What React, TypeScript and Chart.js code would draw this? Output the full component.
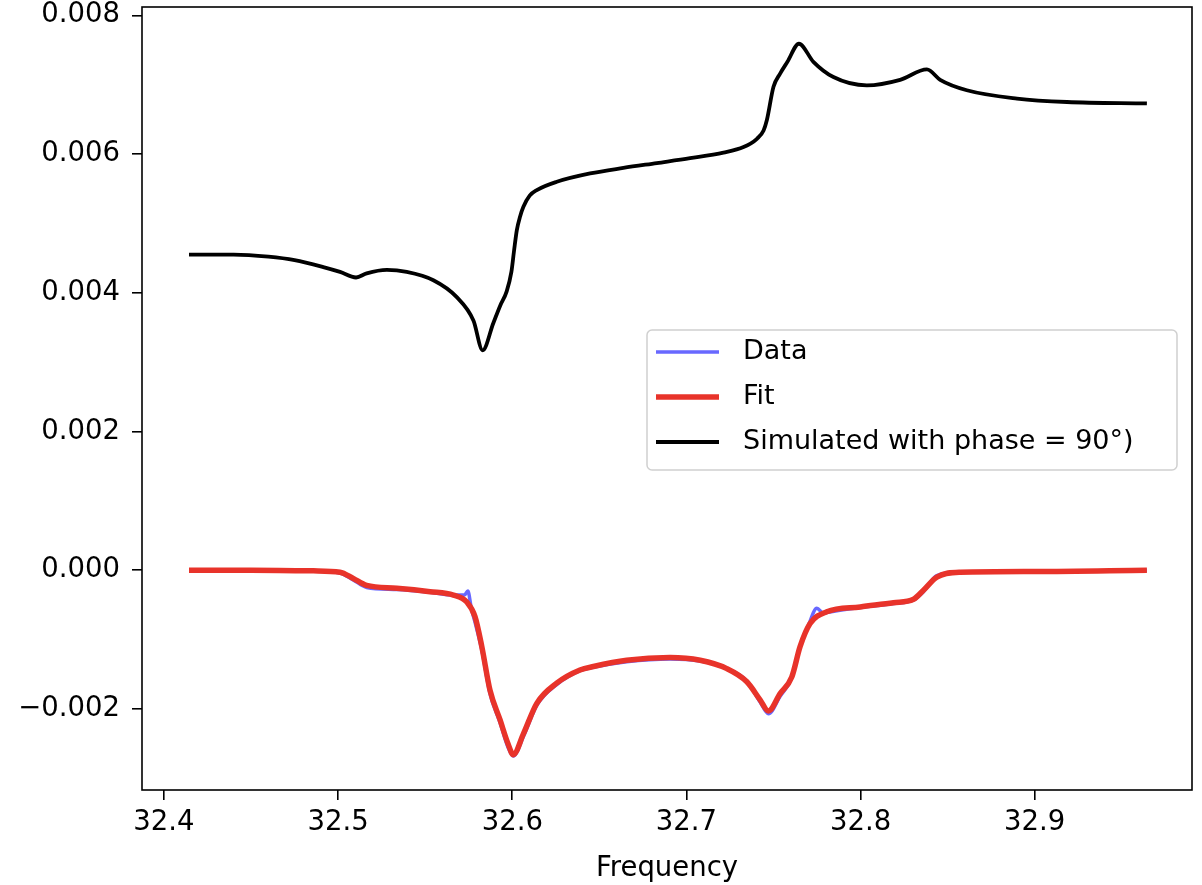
import { useEffect, useRef } from "react";
import { Chart, registerables } from "chart.js";

Chart.register(...registerables);

// Simulated curve (phase = 90°)
const simX = [
  32.4144, 32.44, 32.46, 32.475, 32.4915, 32.5011, 32.5103, 32.5164, 32.528, 32.5394,
  32.5547, 32.568, 32.5777, 32.583, 32.5891, 32.593, 32.5968, 32.5995, 32.601, 32.6026,
  32.6045, 32.6064, 32.61, 32.6141, 32.6256, 32.6447, 32.6638, 32.683, 32.7021, 32.7213,
  32.7328, 32.7405, 32.7443, 32.7462, 32.75, 32.7538, 32.758, 32.7646, 32.7729, 32.7844,
  32.8036, 32.8227, 32.8381, 32.8457, 32.861, 32.8898, 32.9185, 32.9644,
];
const simY = [
  0.00455, 0.00455, 0.00452, 0.00447, 0.00437, 0.0043, 0.00422, 0.00428, 0.00433, 0.0043,
  0.00418, 0.00394, 0.0036, 0.00317, 0.00356, 0.00381, 0.00402, 0.0043, 0.0046, 0.0049,
  0.0051, 0.00524, 0.0054, 0.00548, 0.0056, 0.00572, 0.0058, 0.00587, 0.00594, 0.00602,
  0.0061, 0.00622, 0.00634, 0.00649, 0.00697, 0.00716, 0.00733, 0.00759, 0.00733, 0.00711,
  0.00699, 0.00707, 0.00722, 0.00707, 0.00692, 0.0068, 0.00675, 0.00673,
];

// Fit curve
const fitX = [
  32.4144, 32.45, 32.4858, 32.5011, 32.5087, 32.5164, 32.5337, 32.5528, 32.5662, 32.5739,
  32.5786, 32.5825, 32.5872, 32.593, 32.5975, 32.6006, 32.6064, 32.6141, 32.6255, 32.6389,
  32.6466, 32.6657, 32.6906, 32.7079, 32.7232, 32.7347, 32.7423, 32.7471, 32.7538, 32.7605,
  32.7653, 32.771, 32.7806, 32.7998, 32.8189, 32.8304, 32.8361, 32.8438, 32.8572, 32.9,
  32.9644,
];
const fitY = [
  0.0, 0.0, -0.00001, -0.00003, -0.00012, -0.00022, -0.00026, -0.00031, -0.00036, -0.00046,
  -0.00067, -0.0011, -0.00173, -0.00216, -0.0025, -0.00266, -0.00236, -0.00192, -0.00163, -0.00144,
  -0.00139, -0.0013, -0.00126, -0.0013, -0.00142, -0.00161, -0.00187, -0.00203, -0.00178, -0.00154,
  -0.0011, -0.00077, -0.0006, -0.00053, -0.00047, -0.00042, -0.00029, -0.0001, -0.00003, -0.00002,
  0.0,
];

// Measured data
const dataX = [
  32.4144, 32.45, 32.4858, 32.5011, 32.5087, 32.5164, 32.5337, 32.5528, 32.5662, 32.5725,
  32.5745, 32.5765, 32.5786, 32.5825, 32.5872, 32.593, 32.5975, 32.6006, 32.6064, 32.6141,
  32.6255, 32.6389, 32.6466, 32.6657, 32.6906, 32.7079, 32.7232, 32.7347, 32.7423, 32.7471,
  32.7538, 32.7605, 32.7653, 32.77, 32.7749, 32.7785, 32.7806, 32.7998, 32.8189, 32.8304,
  32.8361, 32.8438, 32.8572, 32.9, 32.9644,
];
const dataY = [
  0.0, 0.0, -0.00001, -0.00004, -0.00014, -0.00025, -0.00028, -0.00032, -0.00036, -0.00036,
  -0.0003, -0.00055, -0.00075, -0.00115, -0.00178, -0.0022, -0.00255, -0.00268, -0.0024, -0.00195,
  -0.00165, -0.00145, -0.0014, -0.00132, -0.00128, -0.00131, -0.00142, -0.0016, -0.0019, -0.00207,
  -0.00182, -0.00155, -0.0011, -0.0008, -0.00055, -0.00062, -0.00061, -0.00054, -0.00048, -0.00043,
  -0.00031, -0.00008, -0.00003, -0.00002, 0.0,
];

const xTicks = [32.4, 32.5, 32.6, 32.7, 32.8, 32.9];
const yTicks = [-0.002, 0.0, 0.002, 0.004, 0.006, 0.008];
const legendLabels = ["Data", "Fit", "Simulated with phase = 90°)"];

const FONT = "'DejaVu Sans', sans-serif";

const toPoints = (xs: number[], ys: number[]) => xs.map((x, i) => ({ x, y: ys[i] }));

// box around the plot + legend in the upper right middle
const framePlugin = {
  id: "frame",
  afterDraw(chart: any) {
    const { ctx, chartArea } = chart;
    ctx.save();
    ctx.strokeStyle = "#000";
    ctx.lineWidth = 1.6;
    ctx.strokeRect(chartArea.left, chartArea.top, chartArea.right - chartArea.left, chartArea.bottom - chartArea.top);

    const boxLeft = chartArea.left + 505;
    const boxRight = chartArea.right - 15;
    const boxTop = chartArea.top + 323;
    const boxBottom = chartArea.top + 463;
    ctx.fillStyle = "rgba(255,255,255,0.8)";
    ctx.strokeStyle = "#d0d0d0";
    ctx.lineWidth = 1.5;
    ctx.beginPath();
    ctx.roundRect(boxLeft, boxTop, boxRight - boxLeft, boxBottom - boxTop, 5);
    ctx.fill();
    ctx.stroke();

    ctx.font = `27px ${FONT}`;
    ctx.textBaseline = "middle";
    ctx.textAlign = "left";
    const order = [0, 1, 2];
    order.forEach((i) => {
      const ds = chart.data.datasets[i];
      const y = boxTop + 22 + i * 45;
      ctx.strokeStyle = ds.borderColor;
      ctx.lineWidth = ds.borderWidth;
      ctx.beginPath();
      ctx.moveTo(boxLeft + 9, y);
      ctx.lineTo(boxLeft + 72, y);
      ctx.stroke();
      ctx.fillStyle = "#000";
      ctx.fillText(legendLabels[i], boxLeft + 96, y);
    });
    ctx.restore();
  },
};

export default function App() {
  const chartRef = useRef<HTMLCanvasElement>(null);
  const chartInstance = useRef<Chart | null>(null);

  useEffect(() => {
    document.body.style.margin = "0";
    if (!chartRef.current) return;
    if (chartInstance.current) chartInstance.current.destroy();

    const ctx = chartRef.current.getContext("2d");
    if (!ctx) return;

    chartInstance.current = new Chart(ctx, {
      type: "line",
      data: {
        datasets: [
          {
            label: legendLabels[0],
            data: toPoints(dataX, dataY),
            borderColor: "rgba(66, 66, 255, 0.8)",
            borderWidth: 3.5,
            pointRadius: 0,
            cubicInterpolationMode: "monotone",
            order: 3,
          },
          {
            label: legendLabels[1],
            data: toPoints(fitX, fitY),
            borderColor: "#e8332a",
            borderWidth: 5.5,
            pointRadius: 0,
            cubicInterpolationMode: "monotone",
            order: 2,
          },
          {
            label: legendLabels[2],
            data: toPoints(simX, simY),
            borderColor: "#000000",
            borderWidth: 3.8,
            pointRadius: 0,
            cubicInterpolationMode: "monotone",
            order: 1,
          },
        ],
      },
      options: {
        responsive: true,
        maintainAspectRatio: false,
        animation: false,
        layout: { padding: { top: 7, right: 10, left: 0, bottom: 0 } },
        plugins: {
          legend: { display: false },
          tooltip: { enabled: false },
        },
        scales: {
          x: {
            type: "linear",
            min: 32.3874,
            max: 32.9903,
            afterBuildTicks: (axis: any) => {
              axis.ticks = xTicks.map((v) => ({ value: v }));
            },
            afterFit: (axis: any) => {
              axis.height = 95;
              axis.paddingLeft = 0;
              axis.paddingRight = 0;
            },
            grid: { drawOnChartArea: false, drawTicks: true, tickLength: 10, color: "#000", lineWidth: 1.6 },
            border: { display: false },
            ticks: {
              color: "#000",
              font: { family: FONT, size: 27.5 },
              padding: 6,
              maxRotation: 0,
              callback: (v: any) => Number(v).toFixed(1),
            },
            title: {
              display: true,
              text: "Frequency",
              color: "#000",
              font: { family: FONT, size: 27.5 },
              padding: { top: 2, bottom: 0 },
            },
          },
          y: {
            type: "linear",
            min: -0.00317,
            max: 0.00812,
            afterBuildTicks: (axis: any) => {
              axis.ticks = yTicks.map((v) => ({ value: v }));
            },
            afterFit: (axis: any) => {
              axis.width = 142;
              axis.paddingTop = 0;
              axis.paddingBottom = 0;
            },
            grid: { drawOnChartArea: false, drawTicks: true, tickLength: 10, color: "#000", lineWidth: 1.6 },
            border: { display: false },
            ticks: {
              color: "#000",
              font: { family: FONT, size: 27.5 },
              padding: 12,
              callback: (v: any) => Number(v).toFixed(3).replace("-", "\u2212"),
            },
          },
        },
      },
      plugins: [framePlugin],
    });

    return () => {
      if (chartInstance.current) {
        chartInstance.current.destroy();
        chartInstance.current = null;
      }
    };
  }, []);

  return (
    <div style={{ width: 1202, height: 885, position: "relative", background: "#fff" }}>
      <canvas ref={chartRef} />
    </div>
  );
}
